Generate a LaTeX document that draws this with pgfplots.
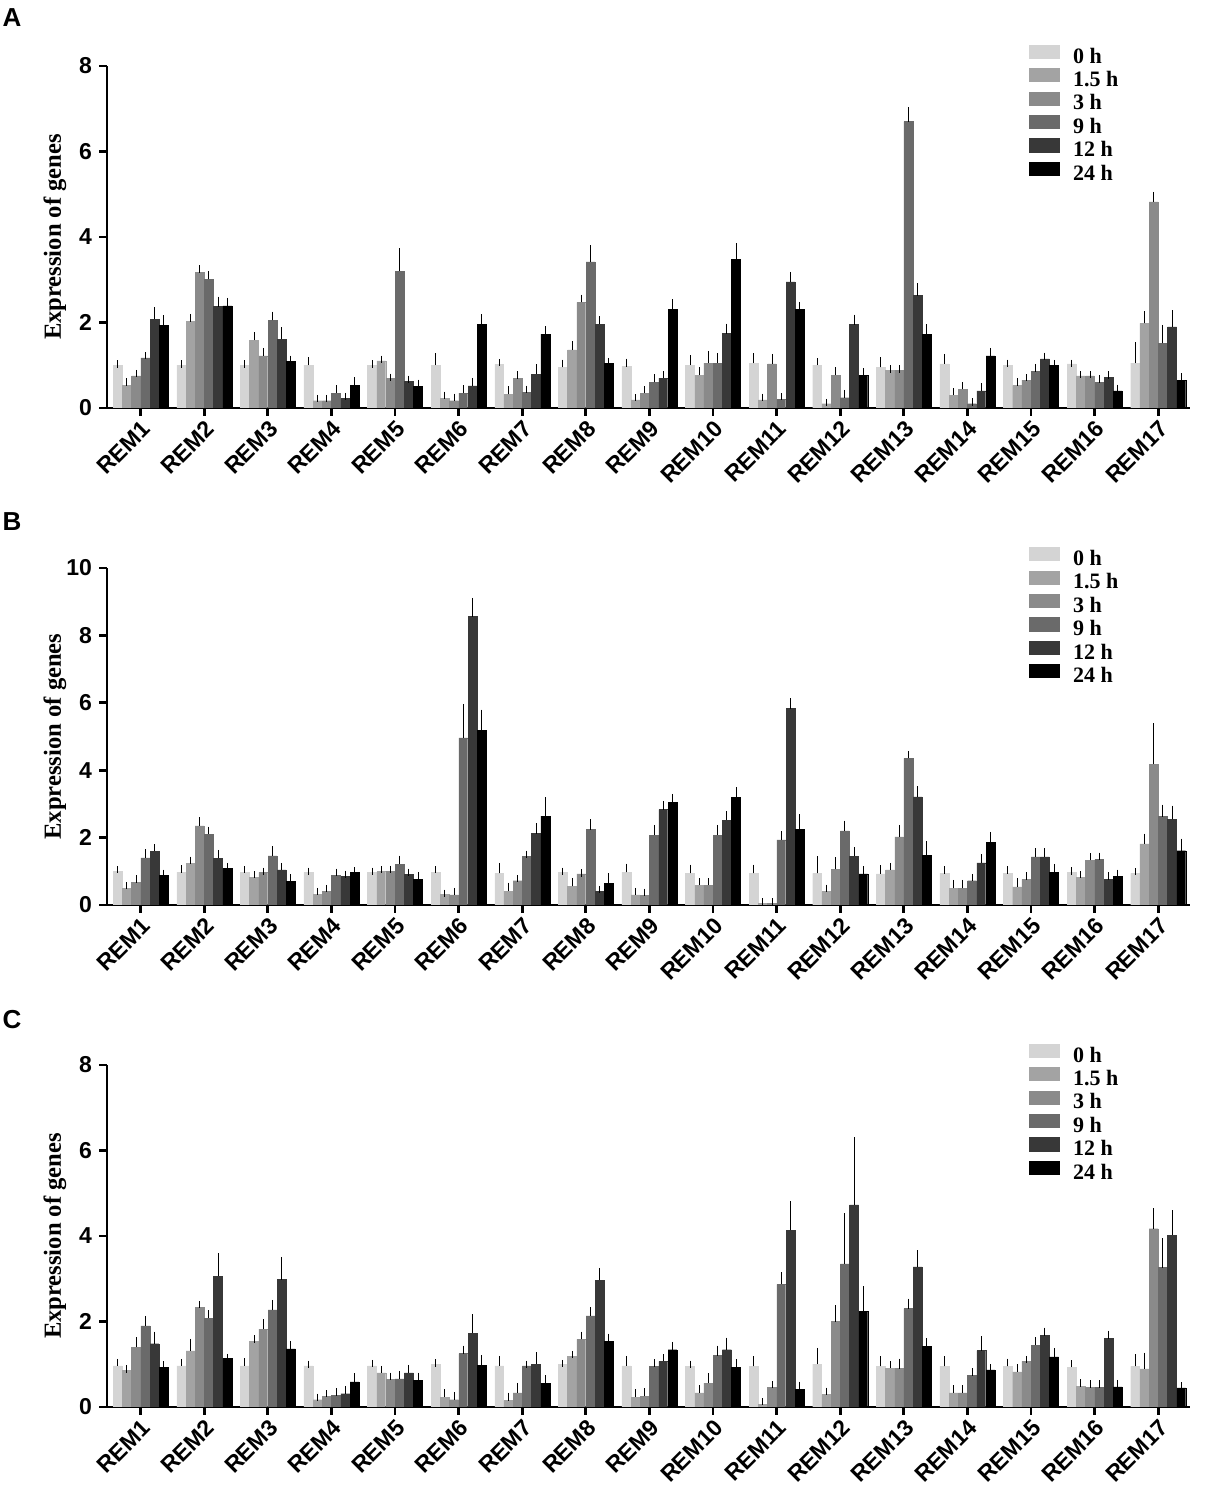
\documentclass[border=0pt]{standalone}
\usepackage{pgfplots}
\pgfplotsset{compat=1.18}
\usepackage{pgfplotstable}
\usepackage{fontspec}
\setmainfont{Liberation Serif}
\newfontfamily\arialf{Liberation Sans}

\definecolor{c0}{HTML}{D4D4D4}
\definecolor{c1}{HTML}{A3A3A3}
\definecolor{c2}{HTML}{8A8A8A}
\definecolor{c3}{HTML}{6A6A6A}
\definecolor{c4}{HTML}{383838}
\definecolor{c5}{HTML}{000000}

\pgfplotstableread{
x v0 v1 v2 v3 v4 v5 e0 e1 e2 e3 e4 e5
0 1.00 0.53 0.75 1.17 2.07 1.94 0.03 0.08 0.06 0.05 0.20 0.15
1 1.00 2.02 3.17 3.01 2.37 2.39 0.03 0.10 0.08 0.10 0.15 0.10
2 1.00 1.59 1.22 2.05 1.61 1.09 0.03 0.10 0.10 0.12 0.20 0.05
3 1.00 0.17 0.17 0.35 0.22 0.53 0.10 0.05 0.05 0.10 0.05 0.10
4 1.00 1.10 0.69 3.20 0.62 0.50 0.03 0.04 0.03 0.45 0.05 0.08
5 1.00 0.22 0.17 0.35 0.52 1.96 0.20 0.08 0.08 0.10 0.10 0.15
6 1.02 0.32 0.69 0.36 0.79 1.73 0.04 0.10 0.08 0.08 0.15 0.10
7 0.95 1.36 2.47 3.42 1.96 1.05 0.10 0.12 0.10 0.30 0.10 0.04
8 0.97 0.19 0.35 0.60 0.70 2.31 0.10 0.05 0.08 0.10 0.08 0.15
9 1.00 0.77 1.05 1.05 1.74 3.47 0.15 0.10 0.20 0.15 0.15 0.30
10 1.05 0.19 1.03 0.20 2.95 2.30 0.15 0.06 0.15 0.06 0.15 0.10
11 1.00 0.10 0.77 0.24 1.95 0.77 0.08 0.03 0.10 0.10 0.15 0.08
12 0.95 0.88 0.88 6.70 2.63 1.72 0.15 0.03 0.03 0.25 0.20 0.15
13 1.03 0.30 0.44 0.10 0.40 1.22 0.15 0.08 0.08 0.04 0.10 0.10
14 1.00 0.53 0.65 0.85 1.15 1.00 0.05 0.08 0.06 0.10 0.06 0.04
15 1.03 0.75 0.75 0.60 0.72 0.40 0.02 0.03 0.03 0.08 0.05 0.06
16 1.05 1.98 4.82 1.51 1.90 0.65 0.40 0.20 0.15 0.35 0.30 0.08
}\tabA

\pgfplotstableread{
x v0 v1 v2 v3 v4 v5 e0 e1 e2 e3 e4 e5
0 0.99 0.49 0.67 1.40 1.60 0.89 0.06 0.08 0.10 0.15 0.10 0.05
1 0.97 1.23 2.35 2.10 1.38 1.09 0.10 0.10 0.15 0.12 0.15 0.05
2 0.97 0.82 0.97 1.46 1.04 0.71 0.08 0.08 0.03 0.18 0.10 0.10
3 0.97 0.32 0.41 0.89 0.86 0.97 0.03 0.08 0.08 0.08 0.05 0.04
4 0.97 0.99 1.00 1.21 0.91 0.76 0.03 0.06 0.06 0.15 0.06 0.10
5 0.97 0.32 0.30 4.96 8.56 5.19 0.08 0.03 0.10 0.90 0.45 0.50
6 0.94 0.41 0.72 1.45 2.12 2.64 0.20 0.15 0.06 0.06 0.20 0.45
7 0.97 0.55 0.92 2.24 0.40 0.64 0.03 0.15 0.03 0.20 0.06 0.20
8 0.97 0.30 0.28 2.07 2.83 3.04 0.15 0.10 0.10 0.20 0.15 0.15
9 0.94 0.59 0.59 2.07 2.52 3.19 0.15 0.10 0.10 0.20 0.15 0.20
10 0.94 0.05 0.05 1.93 5.83 2.24 0.15 0.05 0.05 0.15 0.20 0.35
11 0.94 0.40 1.06 2.20 1.45 0.92 0.40 0.10 0.25 0.20 0.15 0.12
12 0.92 1.04 2.02 4.35 3.21 1.48 0.15 0.10 0.25 0.12 0.20 0.30
13 0.94 0.49 0.49 0.72 1.25 1.86 0.10 0.15 0.15 0.10 0.15 0.20
14 0.94 0.54 0.76 1.43 1.43 0.96 0.10 0.15 0.10 0.15 0.15 0.15
15 0.96 0.82 1.33 1.35 0.76 0.84 0.05 0.08 0.10 0.10 0.10 0.10
16 0.94 1.81 4.18 2.62 2.54 1.61 0.05 0.20 1.10 0.25 0.30 0.25
}\tabB

\pgfplotstableread{
x v0 v1 v2 v3 v4 v5 e0 e1 e2 e3 e4 e5
0 0.96 0.85 1.40 1.90 1.48 0.93 0.08 0.04 0.15 0.15 0.20 0.06
1 0.96 1.31 2.33 2.08 3.06 1.14 0.08 0.20 0.06 0.10 0.45 0.02
2 0.96 1.53 1.82 2.27 2.98 1.36 0.10 0.06 0.15 0.15 0.45 0.10
3 0.96 0.17 0.25 0.27 0.31 0.59 0.04 0.06 0.06 0.08 0.10 0.12
4 0.96 0.80 0.64 0.66 0.80 0.62 0.06 0.08 0.08 0.10 0.10 0.10
5 1.00 0.23 0.17 1.25 1.73 0.98 0.03 0.10 0.10 0.10 0.35 0.15
6 0.96 0.15 0.33 0.96 1.00 0.56 0.15 0.10 0.15 0.04 0.20 0.10
7 1.00 1.19 1.58 2.13 2.97 1.53 0.02 0.04 0.10 0.12 0.20 0.10
8 0.96 0.23 0.25 0.95 1.07 1.34 0.15 0.10 0.10 0.08 0.08 0.10
9 0.95 0.33 0.56 1.20 1.34 0.93 0.05 0.10 0.15 0.15 0.20 0.10
10 0.95 0.07 0.46 2.87 4.13 0.41 0.15 0.05 0.06 0.20 0.60 0.10
11 1.00 0.29 2.00 3.35 4.73 2.24 0.30 0.08 0.30 1.10 1.50 0.50
12 0.95 0.91 0.90 2.30 3.28 1.42 0.15 0.08 0.15 0.15 0.30 0.10
13 0.95 0.33 0.33 0.74 1.32 0.87 0.15 0.10 0.10 0.08 0.25 0.05
14 0.95 0.82 1.07 1.45 1.67 1.17 0.10 0.10 0.04 0.10 0.10 0.12
15 0.93 0.48 0.46 0.46 1.60 0.47 0.08 0.08 0.08 0.08 0.10 0.08
16 0.95 0.89 4.17 3.26 4.02 0.45 0.20 0.30 0.40 0.60 0.50 0.05
}\tabC

\pgfplotsset{
  remaxis/.style={
    scale only axis,
    width=541.5pt,
    xmin=-0.53, xmax=16.5, ymin=0,
    axis x line=bottom, axis y line=left,
    axis line style={line width=1.4pt,-},
    tick style={line width=1.4pt,black},
    major tick length=4pt,
    tick align=outside,
    xtick={0,...,16},
    xticklabels={REM1,REM2,REM3,REM4,REM5,REM6,REM7,REM8,REM9,REM10,REM11,REM12,REM13,REM14,REM15,REM16,REM17},
    x tick label style={rotate=45, anchor=north east, font=\arialf\bfseries\fontsize{11.5}{12}\selectfont, inner sep=1pt},
    y tick label style={font=\arialf\bfseries\fontsize{11.5}{12}\selectfont},
    /pgf/number format/assume math mode=true,
    ylabel={Expression of genes},
    ylabel style={at={(axis description cs:-0.048,0.5)}, anchor=center, font=\bfseries\fontsize{12.3}{13}\selectfont},
    ybar, bar width=0.14,
    error bars/y dir=plus, error bars/y explicit,
    error bars/error bar style={line width=0.5pt,black},
    error bars/error mark options={line width=0.5pt,black,mark size=1.8pt},
    legend style={draw=none, fill=none, anchor=north west, legend cell align=left,
      font=\bfseries\fontsize{11}{11}\selectfont, nodes={inner sep=1.05pt},
      /tikz/every odd column/.append style={column sep=6pt}},
    legend image code/.code={\fill[##1] (0pt,-0.6pt) rectangle (15pt,6pt);},
  },
  b0/.style={fill=c0, draw=c0, line width=0.2pt, bar shift=-0.3625},
  b1/.style={fill=c1, draw=c1, line width=0.2pt, bar shift=-0.2175},
  b2/.style={fill=c2, draw=c2, line width=0.2pt, bar shift=-0.0725},
  b3/.style={fill=c3, draw=c3, line width=0.2pt, bar shift=0.0725},
  b4/.style={fill=c4, draw=c4, line width=0.2pt, bar shift=0.2175},
  b5/.style={fill=c5, draw=c5, line width=0.2pt, bar shift=0.3625},
}

\begin{document}
\begin{tikzpicture}
\useasboundingbox (0,0) rectangle (603.5pt,755pt);

\node[font=\arialf\bfseries\fontsize{13}{13}\selectfont] at (6pt,746pt) {A};
\node[font=\arialf\bfseries\fontsize{13}{13}\selectfont] at (6pt,494pt) {B};
\node[font=\arialf\bfseries\fontsize{13}{13}\selectfont] at (6pt,245pt) {C};

% Panel A
\begin{axis}[remaxis, at={(53.5pt,551pt)}, anchor=south west, height=171pt,
  ymax=8, ytick={0,2,4,6,8},
  legend style={at={(axis description cs:0.845,1.075)}}]
\addplot[b0] table[x=x,y=v0,y error=e0] {\tabA};
\addplot[b1] table[x=x,y=v1,y error=e1] {\tabA};
\addplot[b2] table[x=x,y=v2,y error=e2] {\tabA};
\addplot[b3] table[x=x,y=v3,y error=e3] {\tabA};
\addplot[b4] table[x=x,y=v4,y error=e4] {\tabA};
\addplot[b5] table[x=x,y=v5,y error=e5] {\tabA};
\legend{0 h,1.5 h,3 h,9 h,12 h,24 h}
\end{axis}

% Panel B
\begin{axis}[remaxis, at={(53.5pt,302.5pt)}, anchor=south west, height=168.5pt,
  ymax=10, ytick={0,2,4,6,8,10},
  legend style={at={(axis description cs:0.845,1.075)}}]
\addplot[b0] table[x=x,y=v0,y error=e0] {\tabB};
\addplot[b1] table[x=x,y=v1,y error=e1] {\tabB};
\addplot[b2] table[x=x,y=v2,y error=e2] {\tabB};
\addplot[b3] table[x=x,y=v3,y error=e3] {\tabB};
\addplot[b4] table[x=x,y=v4,y error=e4] {\tabB};
\addplot[b5] table[x=x,y=v5,y error=e5] {\tabB};
\legend{0 h,1.5 h,3 h,9 h,12 h,24 h}
\end{axis}

% Panel C
\begin{axis}[remaxis, at={(53.5pt,51.5pt)}, anchor=south west, height=171pt,
  ymax=8, ytick={0,2,4,6,8},
  legend style={at={(axis description cs:0.845,1.075)}}]
\addplot[b0] table[x=x,y=v0,y error=e0] {\tabC};
\addplot[b1] table[x=x,y=v1,y error=e1] {\tabC};
\addplot[b2] table[x=x,y=v2,y error=e2] {\tabC};
\addplot[b3] table[x=x,y=v3,y error=e3] {\tabC};
\addplot[b4] table[x=x,y=v4,y error=e4] {\tabC};
\addplot[b5] table[x=x,y=v5,y error=e5] {\tabC};
\legend{0 h,1.5 h,3 h,9 h,12 h,24 h}
\end{axis}
\end{tikzpicture}
\end{document}
